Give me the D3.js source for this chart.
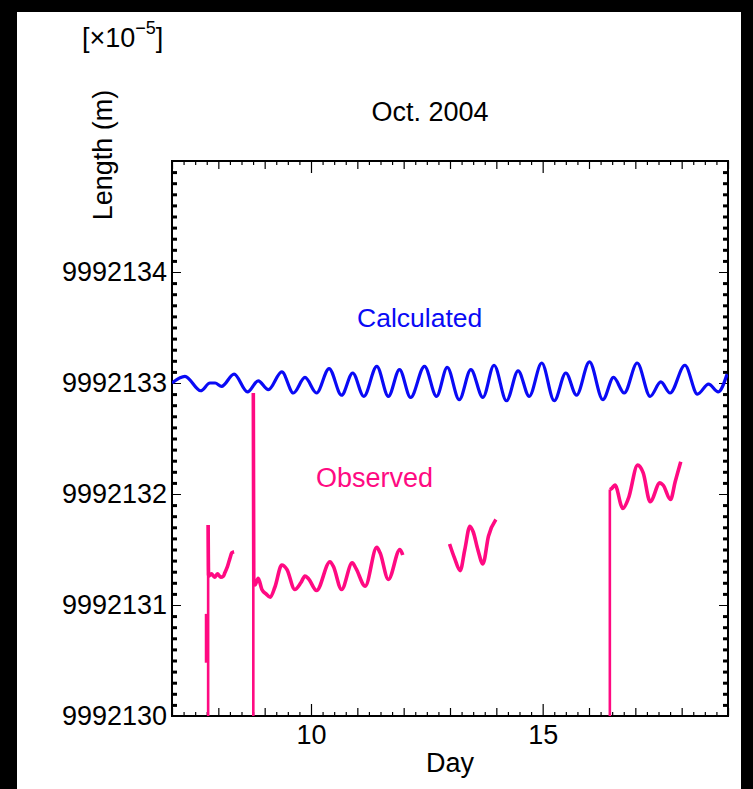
<!DOCTYPE html>
<html>
<head>
<meta charset="utf-8">
<script src="https://cdn.jsdelivr.net/npm/d3@7"></script>
<style>
  html, body { margin: 0; padding: 0; background: #000; }
  svg { display: block; }
  text { font-family: "Liberation Sans", Arial, sans-serif; fill: #000; }
</style>
</head>
<body>
<div id="chart"></div>
<script>
// Calculated vs observed length, Oct. 2004 (values in 1e-5 m)
const xDomain = [7, 19];
const yDomain = [9992130, 9992135];
const xLabelTicks = [10, 15];
const yLabelTicks = [9992130, 9992131, 9992132, 9992133, 9992134];

const calcDay = [7.0, 7.28, 7.62, 7.82, 7.93, 8.07, 8.34, 8.63, 8.86, 9.08, 9.37, 9.62, 9.87,
  10.12, 10.39, 10.66, 10.90, 11.14, 11.42, 11.67, 11.91, 12.15, 12.45, 12.71, 12.94,
  13.20, 13.45, 13.71, 13.95, 14.22, 14.47, 14.71, 14.98, 15.25, 15.50, 15.73, 16.01,
  16.30, 16.53, 16.76, 17.04, 17.32, 17.55, 17.75, 18.07, 18.34, 18.58, 18.79, 18.98];
const calcLen = [9992133.00, 9992133.06, 9992132.93, 9992133.00, 9992133.00, 9992132.97, 9992133.08,
  9992132.92, 9992133.02, 9992132.94, 9992133.10, 9992132.91, 9992133.05,
  9992132.91, 9992133.13, 9992132.89, 9992133.09, 9992132.88, 9992133.15, 9992132.88,
  9992133.12, 9992132.87, 9992133.15, 9992132.88, 9992133.14,
  9992132.85, 9992133.12, 9992132.87, 9992133.16, 9992132.84, 9992133.11, 9992132.88,
  9992133.18, 9992132.84, 9992133.09, 9992132.89, 9992133.19,
  9992132.85, 9992133.05, 9992132.91, 9992133.18, 9992132.88, 9992133.01, 9992132.91,
  9992133.16, 9992132.90, 9992132.99, 9992132.92, 9992133.08];

// observed jumps at the start of each record: [day, from, to]
const obsJumps = [[7.735, 9992130.92, 9992130.48], [7.78, 9992129.5, 9992131.72],
  [8.755, 9992129.5, 9992132.91], [16.45, 9992129.5, 9992132.04]];

// observed records: [day, length]
const obs1 = [[7.78, 9992131.72], [7.79, 9992131.26], [7.85, 9992131.28], [7.92, 9992131.25],
  [7.98, 9992131.28], [8.05, 9992131.25], [8.11, 9992131.26], [8.14, 9992131.29],
  [8.20, 9992131.35], [8.25, 9992131.42], [8.29, 9992131.47], [8.34, 9992131.48]];
const obs2 = [[8.755, 9992132.91], [8.765, 9992131.2], [8.79, 9992131.18], [8.86, 9992131.24],
  [8.94, 9992131.14], [9.03, 9992131.10], [9.12, 9992131.07], [9.22, 9992131.16],
  [9.37, 9992131.36], [9.48, 9992131.32], [9.65, 9992131.14], [9.78, 9992131.20],
  [9.87, 9992131.26], [9.94, 9992131.24], [10.12, 9992131.13], [10.41, 9992131.39],
  [10.48, 9992131.35], [10.66, 9992131.14], [10.89, 9992131.38], [10.97, 9992131.33],
  [11.17, 9992131.17], [11.42, 9992131.52], [11.49, 9992131.47], [11.67, 9992131.23],
  [11.92, 9992131.50], [11.98, 9992131.45]];
const obs3 = [[12.99, 9992131.55], [13.10, 9992131.42], [13.22, 9992131.31], [13.32, 9992131.50],
  [13.43, 9992131.71], [13.50, 9992131.66], [13.60, 9992131.50], [13.71, 9992131.37],
  [13.83, 9992131.62], [13.99, 9992131.77]];
const obs4 = [[16.45, 9992132.04], [16.49, 9992132.05], [16.56, 9992132.08], [16.73, 9992131.87],
  [16.85, 9992131.96], [17.05, 9992132.26], [17.17, 9992132.19], [17.32, 9992131.93],
  [17.53, 9992132.10], [17.60, 9992132.08], [17.76, 9992131.95], [17.86, 9992132.11],
  [17.98, 9992132.29]];

const W = 753, H = 789;
const m = { left: 172, right: 728, top: 161, bottom: 716 };
const calcColor = '#0a0af5';
const obsColor = '#ff0a82';

const svg = d3.select('#chart').append('svg')
  .attr('width', W).attr('height', H)
  .attr('viewBox', [0, 0, W, H]);

// white page over the black frame
svg.append('rect').attr('x', 17).attr('y', 12).attr('width', 724).attr('height', H - 12).attr('fill', '#fff');

const x = d3.scaleLinear().domain(xDomain).range([m.left, m.right]);
const y = d3.scaleLinear().domain(yDomain).range([m.bottom, m.top]);

svg.append('clipPath').attr('id', 'plot-clip')
  .append('rect').attr('x', m.left).attr('y', m.top)
  .attr('width', m.right - m.left).attr('height', m.bottom - m.top);

// ticks helpers
const quarterDays = d3.range(0, 49).map(i => 7 + i * 0.25).filter(d => d % 1 !== 0);
const wholeDays = d3.range(7, 20).filter(d => !xLabelTicks.includes(d));
const tenths = d3.range(1, 50).filter(i => i % 10 !== 0).map(i => yDomain[0] + i / 10);

function tickGroup(axis, tx, ty, width) {
  const g = svg.append('g').attr('transform', `translate(${tx},${ty})`).call(axis);
  g.select('.domain').remove();
  g.selectAll('line').attr('stroke', '#000').attr('stroke-width', width);
  g.selectAll('text').attr('font-size', 27).attr('fill', '#000').style('font-family', '"Liberation Sans", Arial, sans-serif');
  return g;
}

// bottom + top
tickGroup(d3.axisBottom(x).tickValues(quarterDays).tickSize(-4).tickFormat(''), 0, m.bottom, 1.2);
tickGroup(d3.axisBottom(x).tickValues(wholeDays).tickSize(-8).tickFormat(''), 0, m.bottom, 1.2);
tickGroup(d3.axisBottom(x).tickValues(xLabelTicks).tickSize(-12).tickPadding(9).tickFormat(d3.format('d')), 0, m.bottom, 1.2);
tickGroup(d3.axisTop(x).tickValues(quarterDays).tickSize(-4).tickFormat(''), 0, m.top, 1.2);
tickGroup(d3.axisTop(x).tickValues(wholeDays).tickSize(-8).tickFormat(''), 0, m.top, 1.2);
tickGroup(d3.axisTop(x).tickValues(xLabelTicks).tickSize(-12).tickFormat(''), 0, m.top, 1.2);

// left + right
tickGroup(d3.axisLeft(y).tickValues(tenths).tickSize(-5).tickFormat(''), m.left, 0, 3);
tickGroup(d3.axisLeft(y).tickValues(yLabelTicks).tickSize(-9).tickPadding(5).tickFormat(d3.format('d')), m.left, 0, 1);
tickGroup(d3.axisRight(y).tickValues(tenths).tickSize(-5).tickFormat(''), m.right, 0, 3);
tickGroup(d3.axisRight(y).tickValues(yLabelTicks).tickSize(-9).tickFormat(''), m.right, 0, 1);

// frame
svg.append('rect')
  .attr('x', m.left).attr('y', m.top)
  .attr('width', m.right - m.left).attr('height', m.bottom - m.top)
  .attr('fill', 'none').attr('stroke', '#000').attr('stroke-width', 2);

// lines
const plot = svg.append('g').attr('clip-path', 'url(#plot-clip)');

const calcLine = d3.line()
  .x(i => x(calcDay[i]))
  .y(i => y(calcLen[i]))
  .curve(d3.curveMonotoneX);

plot.append('path')
  .attr('d', calcLine(d3.range(calcDay.length)))
  .attr('fill', 'none')
  .attr('stroke', calcColor)
  .attr('stroke-width', 3.2)
  .attr('stroke-linejoin', 'round');

const obsLine = d3.line().x(d => x(d[0])).y(d => y(d[1])).curve(d3.curveMonotoneX);
plot.selectAll('path.obs')
  .data([obs1, obs2, obs3, obs4])
  .join('path')
    .attr('class', 'obs')
    .attr('d', obsLine)
    .attr('fill', 'none')
    .attr('stroke', obsColor)
    .attr('stroke-width', 3.6)
    .attr('stroke-linejoin', 'round');

plot.selectAll('line.jump')
  .data(obsJumps)
  .join('line')
    .attr('class', 'jump')
    .attr('x1', d => x(d[0])).attr('x2', d => x(d[0]))
    .attr('y1', d => y(d[1])).attr('y2', d => y(d[2]))
    .attr('stroke', obsColor)
    .attr('stroke-width', 2.6);

// series labels
svg.append('text').attr('x', 357).attr('y', 327).attr('font-size', 26.5)
  .style('fill', calcColor).text('Calculated');
svg.append('text').attr('x', 316).attr('y', 487).attr('font-size', 27)
  .style('fill', obsColor).text('Observed');

// titles
svg.append('text').attr('x', 430).attr('y', 121).attr('font-size', 27)
  .attr('text-anchor', 'middle').text('Oct. 2004');
svg.append('text').attr('x', (m.left + m.right) / 2).attr('y', 772).attr('font-size', 27)
  .attr('text-anchor', 'middle').text('Day');
svg.append('text')
  .attr('transform', 'translate(112,155) rotate(-90)')
  .attr('font-size', 27).attr('text-anchor', 'middle')
  .text('Length  (m)');

const mult = svg.append('text').attr('x', 82).attr('y', 47).attr('font-size', 27);
mult.append('tspan').text('[×10');
mult.append('tspan').attr('font-size', 18).attr('dy', -13).text('−5');
mult.append('tspan').attr('dy', 13).text(']');
</script>
</body>
</html>
